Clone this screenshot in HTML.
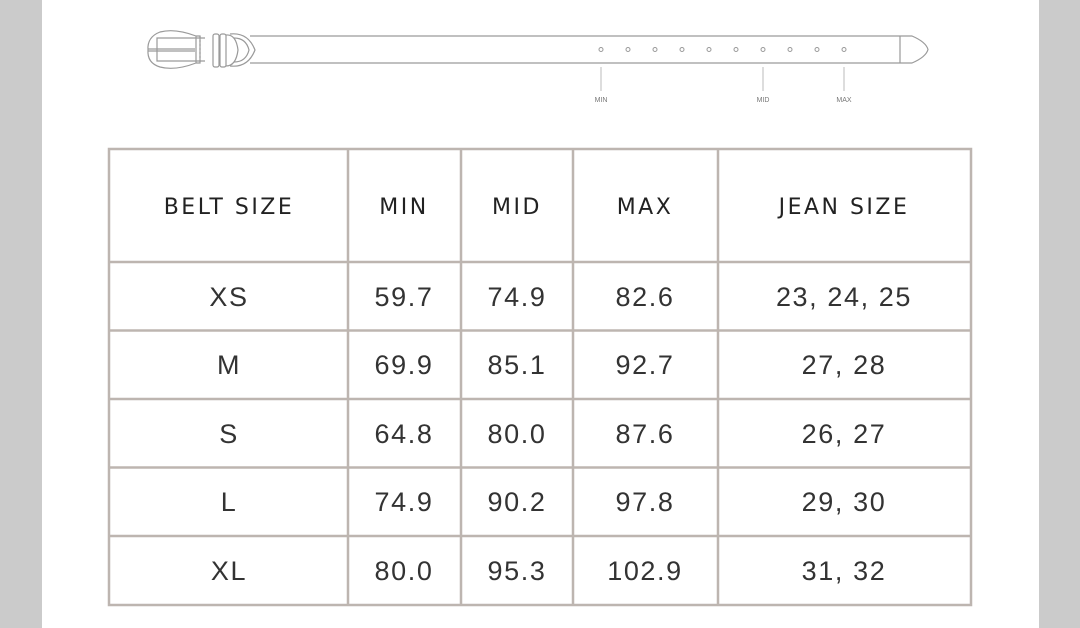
<!DOCTYPE html>
<html><head><meta charset="utf-8"><style>
html,body{margin:0;padding:0;width:1080px;height:628px;overflow:hidden;background:#fff}
svg{display:block}
</style></head><body>
<svg width="1080" height="628" viewBox="0 0 1080 628" xmlns="http://www.w3.org/2000/svg">
<rect x="0" y="0" width="42" height="628" fill="#cbcbcb"/>
<rect x="1039" y="0" width="41" height="628" fill="#cbcbcb"/>
<g fill="none" stroke="#9a9a9a" stroke-width="1.2">
<line x1="250" y1="36" x2="900" y2="36"/>
<line x1="250" y1="63" x2="900" y2="63"/>
<line x1="900" y1="36" x2="900" y2="63"/>
<path d="M900 36 L912 36 Q926 42 928 49.5 Q926 57 912 63 L900 63"/>
<path d="M196 36 Q175 28 160 32 Q147 37 148 50 Q147 63 160 67 Q175 71 196 63 Z"/>
<path d="M196 36 L200 36 L200 63 L196 63"/>
<line x1="200" y1="36" x2="200" y2="63" stroke-dasharray="2 2"/>
<path d="M205 38 L157 38 L157 61 L205 61"/>
<line x1="148" y1="49" x2="195" y2="49"/>
<line x1="148" y1="51" x2="195" y2="51"/>
<rect x="213" y="34" width="6" height="33" rx="2"/>
<rect x="220" y="34" width="6" height="33" rx="2"/>
<path d="M226 35 Q236 34 238 50 Q236 66 226 66"/>
<path d="M230 34 Q248 32 255 50 Q248 68 230 66"/>
<path d="M234 38 Q246 38 249 50 Q246 62 234 62"/>
</g>
<g fill="none" stroke="#999" stroke-width="1">
<circle cx="601" cy="49.5" r="2"/><circle cx="628" cy="49.5" r="2"/><circle cx="655" cy="49.5" r="2"/>
<circle cx="682" cy="49.5" r="2"/><circle cx="709" cy="49.5" r="2"/><circle cx="736" cy="49.5" r="2"/>
<circle cx="763" cy="49.5" r="2"/><circle cx="790" cy="49.5" r="2"/><circle cx="817" cy="49.5" r="2"/>
<circle cx="844" cy="49.5" r="2"/>
<line x1="601" y1="67" x2="601" y2="91" stroke="#bbb"/>
<line x1="763" y1="67" x2="763" y2="91" stroke="#bbb"/>
<line x1="844" y1="67" x2="844" y2="91" stroke="#bbb"/>
</g>
<g font-family="Liberation Sans, sans-serif" font-size="7" fill="#777" text-anchor="middle">
<text x="601" y="102">MIN</text><text x="763" y="102">MID</text><text x="844" y="102">MAX</text>
</g>
<g stroke="#bdb5b0" stroke-width="2.5" fill="none">
<rect x="109" y="149" width="862" height="456"/>
<line x1="348" y1="149" x2="348" y2="605"/>
<line x1="461" y1="149" x2="461" y2="605"/>
<line x1="573" y1="149" x2="573" y2="605"/>
<line x1="718" y1="149" x2="718" y2="605"/>
<line x1="109" y1="262" x2="971" y2="262"/>
<line x1="109" y1="330.5" x2="971" y2="330.5"/>
<line x1="109" y1="399" x2="971" y2="399"/>
<line x1="109" y1="467.5" x2="971" y2="467.5"/>
<line x1="109" y1="536" x2="971" y2="536"/>
</g>
<g font-family="DejaVu Sans, Liberation Sans, sans-serif" font-size="22" fill="#222" text-anchor="middle" letter-spacing="2.5">
<text x="229" y="214">BELT SIZE</text>
<text x="404" y="214">MIN</text>
<text x="517" y="214">MID</text>
<text x="645" y="214">MAX</text>
<text x="844" y="214">JEAN SIZE</text>
</g>
<g font-family="Liberation Sans, sans-serif" font-size="27" fill="#333" text-anchor="middle" letter-spacing="1.6">
<text x="229" y="306">XS</text><text x="404" y="306">59.7</text><text x="517" y="306">74.9</text><text x="645" y="306">82.6</text><text x="844" y="306">23, 24, 25</text>
<text x="229" y="374">M</text><text x="404" y="374">69.9</text><text x="517" y="374">85.1</text><text x="645" y="374">92.7</text><text x="844" y="374">27, 28</text>
<text x="229" y="443">S</text><text x="404" y="443">64.8</text><text x="517" y="443">80.0</text><text x="645" y="443">87.6</text><text x="844" y="443">26, 27</text>
<text x="229" y="511">L</text><text x="404" y="511">74.9</text><text x="517" y="511">90.2</text><text x="645" y="511">97.8</text><text x="844" y="511">29, 30</text>
<text x="229" y="580">XL</text><text x="404" y="580">80.0</text><text x="517" y="580">95.3</text><text x="645" y="580">102.9</text><text x="844" y="580">31, 32</text>
</g>
</svg>
</body></html>
